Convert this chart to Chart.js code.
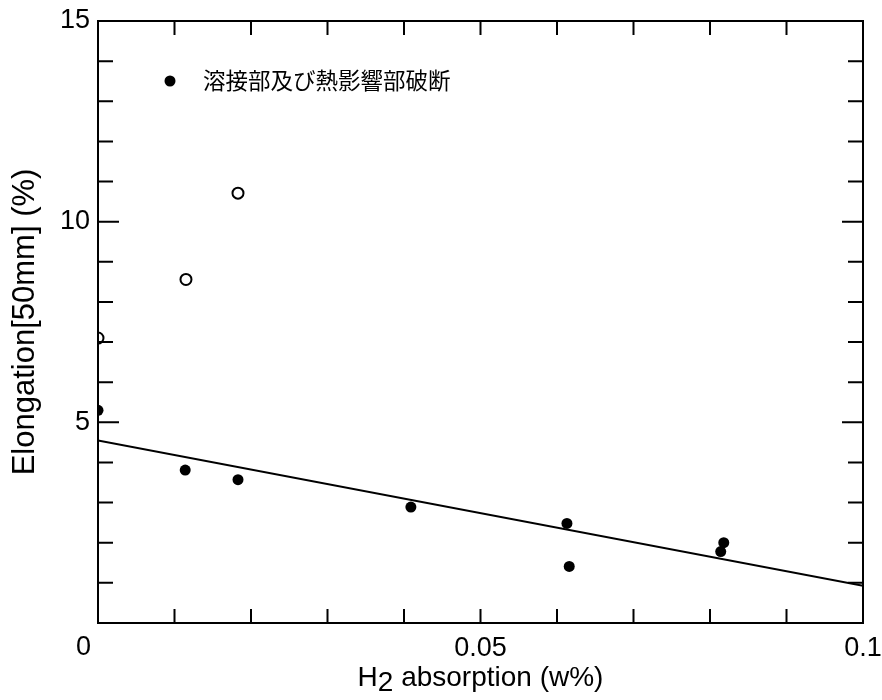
<!DOCTYPE html>
<html>
<head>
<meta charset="utf-8">
<script src="https://cdn.jsdelivr.net/npm/chart.js@4.4.1/dist/chart.umd.min.js"></script>
<style>
  html, body { margin: 0; padding: 0; background: #fff; }
  canvas { display: block; }
</style>
</head>
<body>
<canvas id="c" width="882" height="700"></canvas>
<script>
// points: filled = weld / HAZ fracture, open = other
var FILLED_X = [0, 0.0114, 0.0183, 0.0409, 0.0613, 0.0616, 0.0818, 0.0814];
var FILLED_Y = [5.3, 3.81, 3.57, 2.89, 2.48, 1.41, 2.0, 1.78];
var OPEN_X = [0, 0.0115, 0.0183];
var OPEN_Y = [7.1, 8.56, 10.71];
// fitted trend line end points
var FIT_X = [0, 0.1];
var FIT_Y = [4.55, 0.93];
var X_LABELS = [0.05, 0.1];
var Y_LABELS = [5, 10, 15];
var LEGEND_TEXT = "溶接部及び熱影響部破断";
var FONT = "'Liberation Sans', Arial, sans-serif";

function pts(xs, ys) { return xs.map(function (x, i) { return { x: x, y: ys[i] }; }); }
function near(v, list) { return list.some(function (l) { return Math.abs(v - l) < 1e-9; }); }

// frame, inward ticks, axis titles, legend
var framePlugin = {
  id: "frame",
  afterDraw: function (chart) {
    var ctx = chart.ctx, a = chart.chartArea, xs = chart.scales.x, ys = chart.scales.y;
    ctx.save();
    ctx.strokeStyle = "#000"; ctx.lineWidth = 2;
    ctx.strokeRect(a.left, a.top, a.right - a.left, a.bottom - a.top);
    ctx.beginPath();
    xs.ticks.forEach(function (t) {
      if (t.value <= xs.min || t.value >= xs.max) return;
      var px = xs.getPixelForValue(t.value);
      ctx.moveTo(px, a.bottom); ctx.lineTo(px, a.bottom - 14);
      ctx.moveTo(px, a.top); ctx.lineTo(px, a.top + 14);
    });
    ys.ticks.forEach(function (t) {
      if (t.value <= ys.min || t.value >= ys.max) return;
      var py = ys.getPixelForValue(t.value), len = (t.value % 5 === 0) ? 21 : 15;
      ctx.moveTo(a.left, py); ctx.lineTo(a.left + len, py);
      ctx.moveTo(a.right, py); ctx.lineTo(a.right - len, py);
    });
    ctx.stroke();

    ctx.fillStyle = "#000";
    // shared corner "0"
    ctx.font = "27px " + FONT; ctx.textAlign = "right"; ctx.textBaseline = "top";
    ctx.fillText("0", a.left - 7, a.bottom + 11);

    // x title with subscript 2
    ctx.font = "28px " + FONT; ctx.textAlign = "left"; ctx.textBaseline = "alphabetic";
    var p1 = "H", p2 = "2", p3 = " absorption (w%)";
    var w = ctx.measureText(p1).width + ctx.measureText(p2).width + ctx.measureText(p3).width;
    var x0 = (a.left + a.right) / 2 - w / 2, base = 686;
    ctx.fillText(p1, x0, base); x0 += ctx.measureText(p1).width;
    ctx.fillText(p2, x0, base + 5); x0 += ctx.measureText(p2).width;
    ctx.fillText(p3, x0, base);

    // y title
    ctx.save();
    ctx.translate(34, 322); ctx.rotate(-Math.PI / 2);
    ctx.font = "31px " + FONT; ctx.textAlign = "center"; ctx.textBaseline = "alphabetic";
    ctx.fillText("Elongation[50mm] (%)", 0, 0);
    ctx.restore();

    // legend
    ctx.beginPath(); ctx.arc(a.left + 72, a.top + 60, 5.5, 0, Math.PI * 2); ctx.fill();
    ctx.font = "22.5px 'Noto Sans CJK JP', sans-serif"; ctx.textAlign = "left"; ctx.textBaseline = "middle";
    ctx.fillText(LEGEND_TEXT, a.left + 105, a.top + 59);
    ctx.restore();
  }
};

new Chart(document.getElementById("c"), {
  type: "scatter",
  data: {
    datasets: [
      { label: "fit", type: "line", data: pts(FIT_X, FIT_Y), borderColor: "#000", borderWidth: 2,
        pointRadius: 0, fill: false, tension: 0, clip: 0 },
      { label: "filled", data: pts(FILLED_X, FILLED_Y), backgroundColor: "#000", borderColor: "#000",
        borderWidth: 0, pointRadius: 5.5, clip: 0 },
      { label: "open", data: pts(OPEN_X, OPEN_Y), backgroundColor: "#fff", borderColor: "#000",
        borderWidth: 2, pointRadius: 5.5, clip: 0 },
    ],
  },
  options: {
    responsive: false, animation: false, devicePixelRatio: 1,
    layout: { padding: { left: 0, right: 19, top: 21, bottom: 0 } },
    plugins: { legend: { display: false }, tooltip: { enabled: false } },
    scales: {
      x: {
        type: "linear", min: 0, max: 0.1,
        grid: { display: false, drawTicks: false }, border: { display: false },
        ticks: { stepSize: 0.01, autoSkip: false, maxRotation: 0, padding: 9, color: "#000",
          font: { family: FONT, size: 27 },
          callback: function (v) { return near(v, X_LABELS) ? String(Math.round(v * 100) / 100) : ""; } },
        afterFit: function (s) { s.height = 77; s.paddingLeft = 0; s.paddingRight = 0; },
      },
      y: {
        type: "linear", min: 0, max: 15,
        grid: { display: false, drawTicks: false }, border: { display: false },
        ticks: { stepSize: 1, autoSkip: false, padding: 8, color: "#000",
          font: { family: FONT, size: 27 },
          callback: function (v) { return near(v, Y_LABELS) ? String(v) : ""; } },
        afterFit: function (s) { s.width = 98; s.paddingTop = 0; s.paddingBottom = 0; },
      },
    },
  },
  plugins: [framePlugin],
});
</script>
</body>
</html>
